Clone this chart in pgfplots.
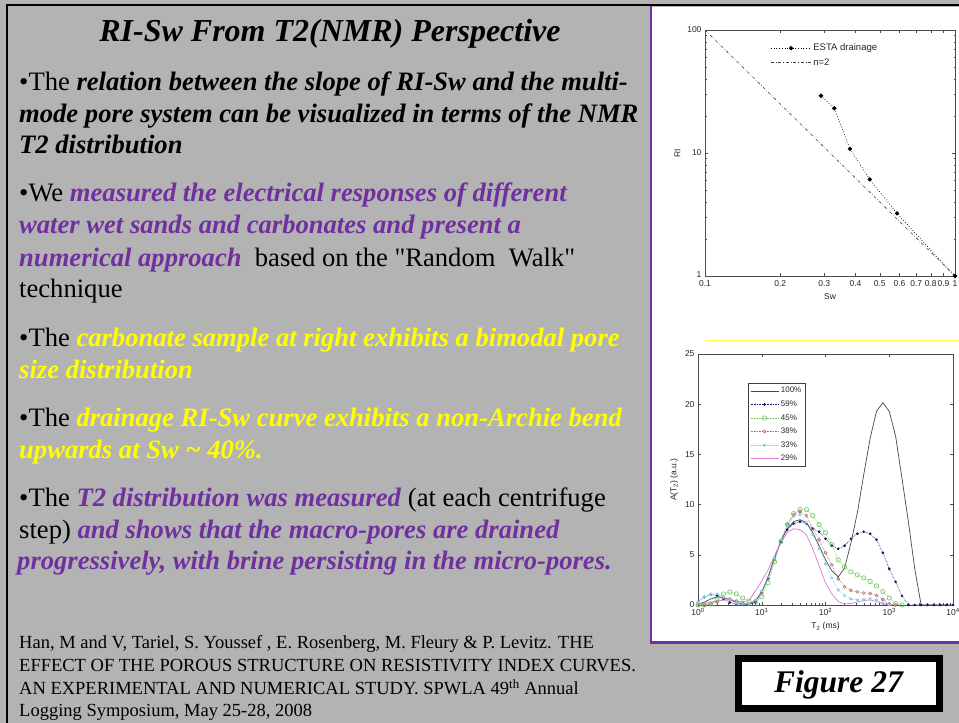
\documentclass[border=0pt]{standalone}
\usepackage{pgfplots}
\pgfplotsset{compat=1.18}
\usepackage{pgfplotstable}
\usepackage{fontspec}
\setmainfont{Liberation Serif}
\setsansfont{Liberation Sans}

\definecolor{slidegray}{RGB}{179,179,179}
\definecolor{purp}{RGB}{112,48,160}
\definecolor{yel}{RGB}{255,255,0}
\definecolor{c100}{RGB}{70,70,80}
\definecolor{c59}{RGB}{20,20,110}
\definecolor{c45}{RGB}{110,200,90}
\definecolor{c38}{RGB}{170,110,110}
\definecolor{c33}{RGB}{120,210,225}
\definecolor{c29}{RGB}{225,120,210}

\newcommand\bi[1]{\textbf{\textit{#1}}}
\newcommand\body{\fontsize{26.6}{30}\selectfont}
\newcommand\refs{\fontsize{18.5}{21}\selectfont}

\pgfplotsset{slideaxis/.style={
  scale only axis,
  axis line style={gray!60!black, line width=0.5pt},
  tick style={gray!60!black, line width=0.4pt},
  major tick length=3pt, minor tick length=1.5pt,
  tick label style={font=\sffamily\fontsize{8.5}{9}\selectfont, text=gray!30!black},
  label style={font=\sffamily\fontsize{8.5}{9}\selectfont, text=gray!30!black},
  /pgf/number format/assume math mode=true,
}}

% T2 distributions, A(T2) in a.u. for each water saturation
\pgfplotstableread{
T      a100  a59  a45  a38  a33  a29
1      0.1   0.3  0    0    0.3  0.1
1.259  0.3   0.8  0    0    0.8  0.2
1.585  0.6   1.05 0.1  0.1  1.1  0.3
1.995  0.8   0.95 0.5  0.3  1.1  0.4
2.512  0.75  0.6  1.1  0.6  0.8  0.5
3.162  0.5   0.25 1.3  0.6  0.5  0.5
3.981  0.25  0.1  1.1  0.4  0.2  0.4
5.012  0.1   0.05 0.7  0.2  0.1  0.3
6.310  0.1   0.05 0.4  0.1  0.1  0.45
7.943  0.4   0.3  0.3  0.4  0.5  1.4
10     1.3   1.3  0.8  1.2  1.4  2.4
12.59  2.8   2.7  2.2  2.6  2.8  3.5
15.85  4.7   4.7  4.3  4.5  4.7  4.9
19.95  6.4   6.3  6.3  6.4  6.5  6.2
25.12  7.6   7.5  8.0  8.0  7.9  7.2
31.62  8.3   8.1  9.1  9.0  8.8  7.6
39.81  8.5   8.3  9.5  9.3  9.0  7.5
50.12  8.2   8.1  9.5  8.9  8.2  7.0
63.10  7.2   7.6  8.9  7.6  7.0  5.6
79.43  5.9   7.3  8.0  6.5  5.6  3.9
100    4.5   6.6  7.2  5.2  4.1  2.2
125.9  3.4   5.9  6.0  4.0  2.7  1.1
158.5  2.8   5.6  4.5  2.6  1.5  0.35
199.5  3.7   5.9  3.8  1.8  0.95 0.1
251.2  6.2   6.6  3.3  1.45 0.6  0.15
316.2  9.2   7.1  3.0  1.3  0.5  0.3
398.1  13.0  7.3  2.7  1.2  0.55 0.45
501.2  16.6  7.1  2.35 1.15 0.65 0.5
631.0  19.3  6.5  1.9  0.95 0.5  0.35
794.3  20.15 5.2  1.33 0.55 0.2  0.1
1000   19.3  3.6  0.7  0.1  0    0
1259   16.8  2.3  0.15 0    nan  nan
1585   12.6  0.9  0    nan  nan  nan
1995   8.3   0    nan  nan  nan  nan
2512   3.6   0    nan  nan  nan  nan
3162   0     0    nan  nan  nan  nan
3981   0     0    nan  nan  nan  nan
5012   0     0    nan  nan  nan  nan
6310   0     0    nan  nan  nan  nan
7943   0     0    nan  nan  nan  nan
10000  0     0    nan  nan  nan  nan
}\nmrtable

\begin{document}
\begin{tikzpicture}[x=1pt,y=1pt]
\useasboundingbox (0,0) rectangle (959,723);
\fill[slidegray] (0,0) rectangle (959,723);
\fill[white] (652,82) rectangle (959,716);
\draw[purp, line width=2.5pt] (651,718) -- (651,80.5) -- (959,80.5);
\draw[black, line width=2.5pt] (7,0) -- (7,718) -- (959,718);
\draw[yel!70!white, line width=0.8pt] (705,383) -- (959,383);

% slide text
\node[anchor=base, inner sep=0] at (330,681) {\fontsize{32}{36}\selectfont\bi{RI-Sw From T2(NMR) Perspective}};

\begin{scope}[every node/.style={anchor=base west, inner sep=0}]
\node at (19,632.3) {\body •The \bi{relation between the slope of RI-Sw and the multi-}};
\node at (19,600.3) {\body \bi{mode pore system can be visualized in terms of the NMR}};
\node at (19,569) {\body \bi{T2 distribution}};
\node at (19,521.3) {\body •We \textcolor{purp}{\bi{measured the electrical responses of different}}};
\node at (19,489.7) {\body \textcolor{purp}{\bi{water wet sands and carbonates and present a}}};
\node at (19,456.3) {\body \textcolor{purp}{\bi{numerical approach}}\ \ based on the \textquotedbl Random\ \ Walk\textquotedbl};
\node at (19,425) {\body technique};
\node at (19,376.3) {\body •The \textcolor{yel}{\bi{carbonate sample at right exhibits a bimodal pore}}};
\node at (19,344.7) {\body \textcolor{yel}{\bi{size distribution}}};
\node at (19,296.3) {\body •The \textcolor{yel}{\bi{drainage RI-Sw curve exhibits a non-Archie bend}}};
\node at (19,264.7) {\body \textcolor{yel}{\bi{upwards at Sw \textasciitilde\ 40\%.}}};
\node at (19,216.3) {\body •The \textcolor{purp}{\bi{T2 distribution was measured}} (at each centrifuge};
\node at (19,184.7) {\body step) \textcolor{purp}{\bi{and shows that the macro-pores are drained}}};
\node at (17,153) {\body \textcolor{purp}{\bi{progressively, with brine persisting in the micro-pores.}}};
\node at (19,74.7) {\refs Han, M and V, Tariel, S. Youssef , E. Rosenberg, M. Fleury \& P. Levitz. THE};
\node at (19,51.3) {\refs EFFECT OF THE POROUS STRUCTURE ON RESISTIVITY INDEX CURVES.};
\node at (19,28) {\refs AN EXPERIMENTAL AND NUMERICAL STUDY. SPWLA 49\textsuperscript{th} Annual};
\node at (19,6.3) {\refs Logging Symposium, May 25-28, 2008};
\end{scope}

% figure label
\fill[white] (738.5,14.5) rectangle (939.5,64.5);
\draw[black, line width=7pt] (738.5,14.5) rectangle (939.5,64.5);
\node[inner sep=0] at (839,38) {\fontsize{31.5}{36}\selectfont\bi{Figure 27}};

% RI-Sw plot
\begin{axis}[slideaxis,
  at={(705pt,447pt)}, anchor=south west,
  width=250pt, height=246pt,
  xmode=log, ymode=log,
  xmin=0.1, xmax=1, ymin=1, ymax=100,
  xtick={0.1,0.2,0.3,0.4,0.5,0.6,0.7,0.8,0.9,1},
  xticklabels={0.1,0.2,0.3,0.4,0.5,0.6,0.7,0.8,0.9,1},
  xticklabel style={yshift=-1pt},
  minor x tick num=0, xminorticks=false,
  ytick={1,10,100}, yticklabels={\raisebox{3pt}{1},10,100},
  xlabel={Sw}, ylabel={RI},
  legend style={draw=none, fill=none, at={(0.25,0.96)}, anchor=north west,
    font=\sffamily\fontsize{9.5}{10}\selectfont, text=gray!30!black, row sep=2pt},
  legend cell align=left,
  legend image code/.code={\draw[mark repeat=2,mark phase=2,#1]
    plot coordinates {(0pt,0pt) (20pt,0pt) (40pt,0pt)};},
]
\addplot[black, dotted, line width=0.7pt, mark=*, mark size=1.8pt, mark options={solid}]
  coordinates {(0.291,29.2) (0.329,23.1) (0.38,10.8) (0.456,6.1) (0.586,3.23) (1,1)};
\addlegendentry{ESTA drainage}
\addplot[gray!50!black, dash dot, line width=0.6pt]
  coordinates {(0.1,100) (1,1)};
\addlegendentry{n=2}
\end{axis}

% T2 distribution plot
\begin{axis}[slideaxis,
  at={(698pt,118pt)}, anchor=south west,
  width=255pt, height=251pt,
  xmode=log, xmin=1, xmax=10000, ymin=0, ymax=25,
  xtick={1,10,100,1000,10000},
  xticklabels={10\textsuperscript{0},10\textsuperscript{1},10\textsuperscript{2},10\textsuperscript{3},10\textsuperscript{4}},
  ytick={0,5,10,15,20,25},
  xlabel={T\textsubscript{2} (ms)}, ylabel={A(T\textsubscript{2}) (a.u.)},
  legend style={draw=gray!50!black, fill=white, at={(0.196,0.884)}, anchor=north west,
    font=\sffamily\fontsize{8}{9}\selectfont, text=gray!30!black, row sep=2.5pt,
    inner sep=2pt},
  legend cell align=left,
  legend image code/.code={\draw[mark repeat=2,mark phase=2,#1]
    plot coordinates {(0pt,0pt) (14pt,0pt) (28pt,0pt)};},
]
\addplot[c100, line width=0.7pt] table[x=T, y=a100] {\nmrtable};
\addlegendentry{100\%}
\addplot[c59, densely dotted, line width=0.6pt, mark=*, mark size=1pt, mark options={solid}] table[x=T, y=a59] {\nmrtable};
\addlegendentry{59\%}
\addplot[c45, densely dotted, line width=0.6pt, mark=o, mark size=2.2pt, mark options={solid}] table[x=T, y=a45] {\nmrtable};
\addlegendentry{45\%}
\addplot[c38, densely dotted, line width=0.6pt, mark=o, mark size=1.5pt, mark options={solid}] table[x=T, y=a38] {\nmrtable};
\addlegendentry{38\%}
\addplot[c33, densely dotted, line width=0.6pt, mark=asterisk, mark size=1.6pt, mark options={solid}] table[x=T, y=a33] {\nmrtable};
\addlegendentry{33\%}
\addplot[c29, line width=0.7pt] table[x=T, y=a29] {\nmrtable};
\addlegendentry{29\%}
\end{axis}
\end{tikzpicture}
\end{document}
